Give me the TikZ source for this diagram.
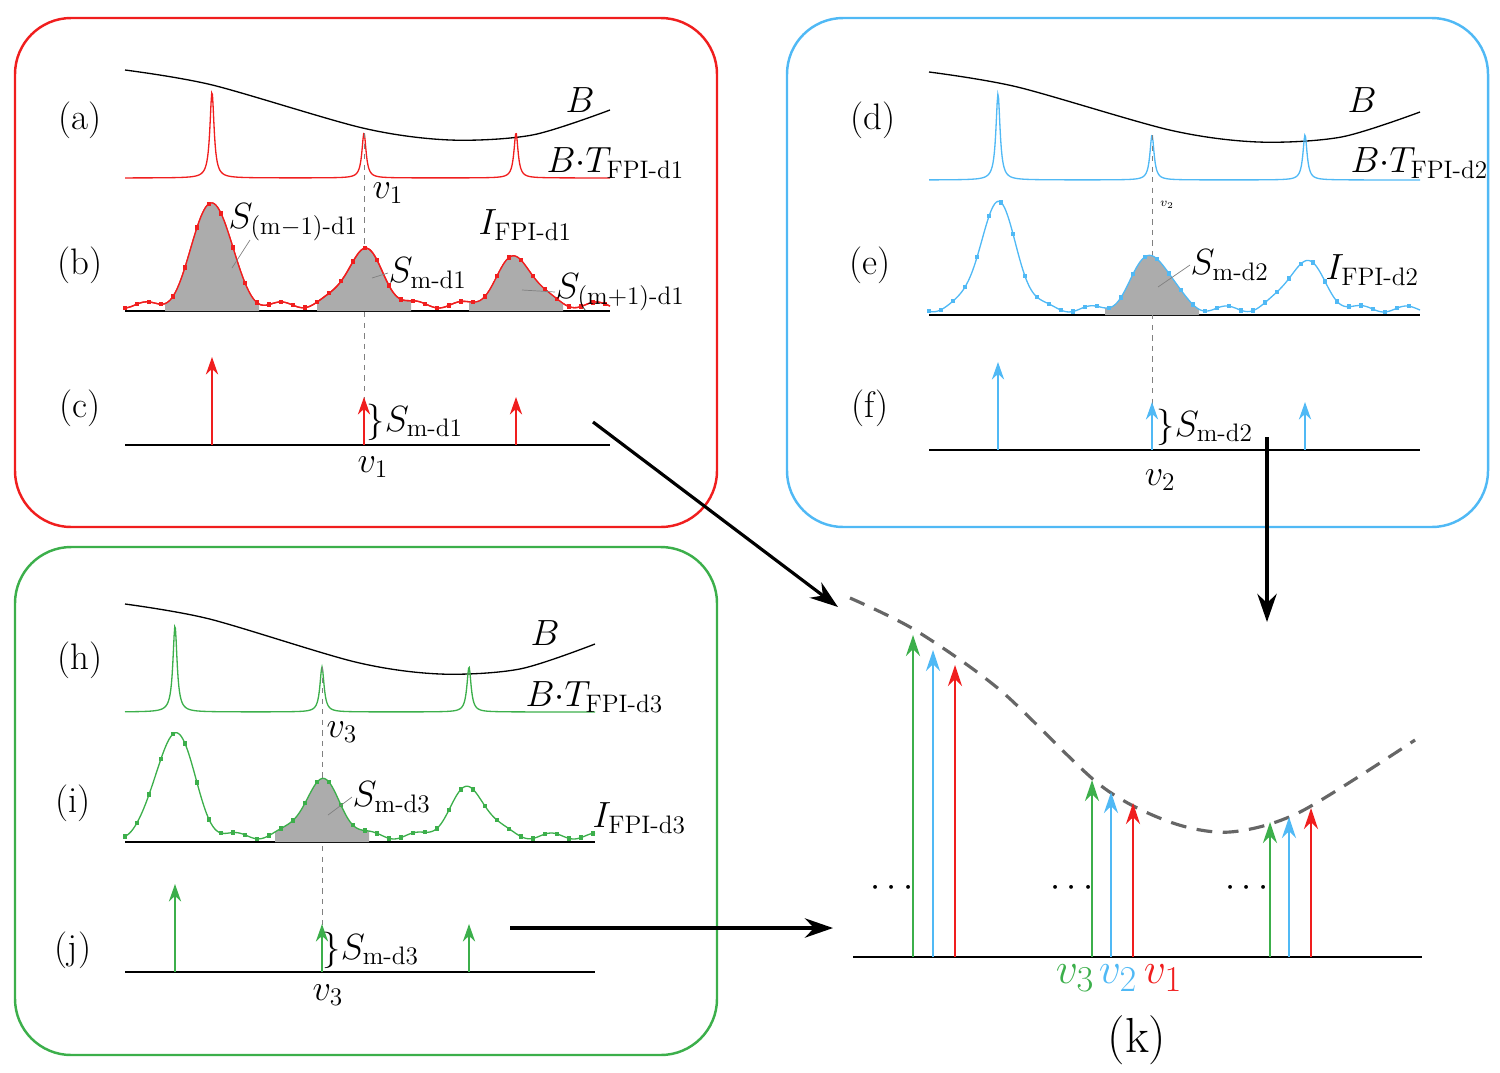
\documentclass[tikz,border=0pt]{standalone}
\usepackage{amsmath}
\usetikzlibrary{arrows.meta}
\definecolor{rd}{RGB}{240,30,30}
\definecolor{bl}{RGB}{80,185,245}
\definecolor{gr}{RGB}{60,175,75}
\pgfmathdeclarefunction{sig}{1}{\pgfmathparse{\yB-105*exp(-min(((#1-\cA)/26)^2,60))-55*exp(-min(((#1-\cB)/26)^2,60))-48*exp(-min(((#1-\cC)/26)^2,60))-6-3*sin(8*#1)}}
\pgfmathdeclarefunction{lor}{1}{\pgfmathparse{\yA-86/(1+min(abs(#1-\cA)/2.5,100)^2)-45/(1+min(abs(#1-\cB)/2.5,100)^2)-45/(1+min(abs(#1-\cC)/2.5,100)^2)}}
\newcommand\Dots[3]{\foreach \xx in {#1,#2,...,#3} {\pgfmathsetmacro\yy{sig(\xx)}\fill (\xx-2.2,\yy-2.2) rectangle (\xx+2.2,\yy+2.2);}}
% #1 x0, #2 W, #3 ya, #4 yb, #5 yc, #6 color, #7-#9 peaks
\newcommand\Panel[9]{%
 \pgfmathsetmacro\xe{#1+#2}\pgfmathsetmacro\xb{#1+12}%
 \def\yA{#3}\def\yB{#4}\def\cA{#7}\def\cB{#8}\def\cC{#9}%
 \draw[black] plot[smooth] coordinates {(#1,#3-108) ({#1+0.18*#2},#3-93) ({#1+0.49*#2},#3-50) ({#1+0.67*#2},#3-38) ({#1+0.84*#2},#3-43) (\xe,#3-68)};
 \draw[#6] plot[domain=#1:\xe,samples=700] (\x,{lor(\x)});
 \draw (#1,#4)--(\xe,#4);
 \draw[gray,dashed,thin] (#8,#3-45)--(#8,#5);
 \fill[gray!65] (#8-47,#4) -- plot[domain=#8-47:#8+47,samples=40] (\x,{sig(\x)}) -- (#8+47,#4) -- cycle;
 \draw[#6] plot[domain=#1:\xe,samples=300,smooth] (\x,{sig(\x)});
 \begin{scope}[#6]\Dots{#1}{\xb}{\xe}\end{scope}
 \draw (#1,#5)--(\xe,#5);
 \draw[#6,-{Stealth[length=10pt,width=7pt]}] (#7,#5)--(#7,#5-88);
 \draw[#6,-{Stealth[length=10pt,width=7pt]}] (#8,#5)--(#8,#5-48);
 \draw[#6,-{Stealth[length=10pt,width=7pt]}] (#9,#5)--(#9,#5-48);
}
\begin{document}
\begin{tikzpicture}[x=0.02cm,y=-0.02cm,font=\fontsize{21}{24}\selectfont,line width=0.75pt,
 box/.style={line width=1.4pt,rounded corners=32pt},
 big/.style={line width=1.8pt,-{Stealth[length=16pt,width=11pt]}},
 lbl/.style={inner sep=0pt},
 kv/.style={inner sep=0pt,font=\fontsize{28}{30}\selectfont}]
\useasboundingbox (0,0) rectangle (1500,1072);
\draw[box,rd] (15,18) rectangle (717,527);
\draw[box,bl] (787,18) rectangle (1488,527);
\draw[box,gr] (15,547) rectangle (717,1055);

\Panel{125}{485}{178}{311}{445}{rd}{212}{364}{516}
\fill[gray!65] (165,311) -- plot[domain=165:259,samples=40] (\x,{sig(\x)}) -- (259,311) -- cycle;
\fill[gray!65] (469,311) -- plot[domain=469:563,samples=40] (\x,{sig(\x)}) -- (563,311) -- cycle;
\draw[rd] plot[domain=125:610,samples=300,smooth] (\x,{sig(\x)});
\begin{scope}[rd]\Dots{125}{137}{610}\end{scope}
\node[lbl] (la) at (80,120) {(a)};
\node[lbl] (lb) at (80,265) {(b)};
\node[lbl] (lc) at (80,408) {(c)};
\node[lbl] (B1) at (580,100) {$B$};
\node[lbl,anchor=west] (T1) at (546,163) {$B{\cdot}T_{\mathrm{FPI\text{-}d1}}$};
\node[lbl] (v1a) at (388,193) {$v_1$};
\node[lbl,anchor=west] (Sa) at (228,222) {$S_{(\mathrm{m}-1)\text{-}\mathrm{d1}}$};
\node[lbl,anchor=west] (I1) at (478,225) {$I_{\mathrm{FPI\text{-}d1}}$};
\node[lbl,anchor=west] (Sb) at (388,273) {$S_{\mathrm{m\text{-}d1}}$};
\node[lbl,anchor=west] (Sc) at (555,292) {$S_{(\mathrm{m}+1)\text{-}\mathrm{d1}}$};
\draw[gray,thin] (250,240) -- (232,268);
\draw[gray,thin] (Sb.west) -- (372,278);
\draw[gray,thin] (Sc.west) -- (522,290);
\node[lbl,anchor=west] (Sd) at (366,422) {$\}S_{\mathrm{m\text{-}d1}}$};
\node[lbl] (v1b) at (373,467) {$v_1$};

\Panel{929}{491}{180}{315}{450}{bl}{998}{1152}{1305}
\node[lbl] (ld) at (873,120) {(d)};
\node[lbl] (le) at (870,265) {(e)};
\node[lbl] (lf) at (870,408) {(f)};
\node[lbl] (B2) at (1362,100) {$B$};
\node[lbl,anchor=west] (T2) at (1350,163) {$B{\cdot}T_{\mathrm{FPI\text{-}d2}}$};
\node[lbl] (v2a) at (1167,205) {\scriptsize$v_2$};
\node[lbl,anchor=west] (S2) at (1190,265) {$S_{\mathrm{m\text{-}d2}}$};
\draw[gray,thin] (S2.west) -- (1158,287);
\node[lbl,anchor=west] (I2) at (1325,270) {$I_{\mathrm{FPI\text{-}d2}}$};
\node[lbl,anchor=west] (Sd2) at (1156,427) {$\}S_{\mathrm{m\text{-}d2}}$};
\node[lbl] (v2b) at (1160,480) {$v_2$};

\Panel{125}{470}{712}{842}{972}{gr}{175}{322}{469}
\node[lbl] (lh) at (80,660) {(h)};
\node[lbl] (li) at (73,803) {(i)};
\node[lbl] (lj) at (73,950) {(j)};
\node[lbl] (B3) at (545,633) {$B$};
\node[lbl,anchor=west] (T3) at (525,697) {$B{\cdot}T_{\mathrm{FPI\text{-}d3}}$};
\node[lbl] (v3a) at (342,732) {$v_3$};
\node[lbl,anchor=west] (S3) at (352,797) {$S_{\mathrm{m\text{-}d3}}$};
\draw[gray,thin] (S3.west) -- (328,815);
\node[lbl,anchor=west] (I3) at (592,818) {$I_{\mathrm{FPI\text{-}d3}}$};
\node[lbl,anchor=west] (Sd3) at (322,950) {$\}S_{\mathrm{m\text{-}d3}}$};
\node[lbl] (v3b) at (328,995) {$v_3$};

% (k)
\draw[gray!80!black,line width=1.8pt,dash pattern=on 9pt off 6pt] plot[smooth] coordinates {(850,598) (915,630) (1000,690) (1100,785) (1170,822) (1230,832) (1300,812) (1415,740)};
\draw (853,957)--(1422,957);
\foreach \x/\t/\c in {913/635/gr,933/650/bl,955/665/rd,1092/780/gr,1111/792/bl,1133/803/rd,1270/822/gr,1289/817/bl,1311/808/rd}
 \draw[\c,line width=1.4pt,-{Stealth[length=12pt,width=8pt]}] (\x,957)--(\x,\t);
\foreach \x/\n in {895/d1,1075/d2,1250/d3} \node[lbl] (\n) at (\x,888) {$\cdots$};
\node[kv,gr] (kv3) at (1075,978) {$v_3$};
\node[kv,bl] (kv2) at (1118,978) {$v_2$};
\node[kv,rd] (kv1) at (1163,978) {$v_1$};
\node[kv] (lk) at (1137,1040) {(k)};
\coordinate (a1s) at (593,422); \coordinate (a1e) at (838,607);
\coordinate (a2s) at (1267,437); \coordinate (a2e) at (1267,622);
\coordinate (a3s) at (510,928); \coordinate (a3e) at (833,928);
\draw[big] (a1s)--(a1e);
\draw[big] (a2s)--(a2e);
\draw[big] (a3s)--(a3e);
\end{tikzpicture}
\end{document}
